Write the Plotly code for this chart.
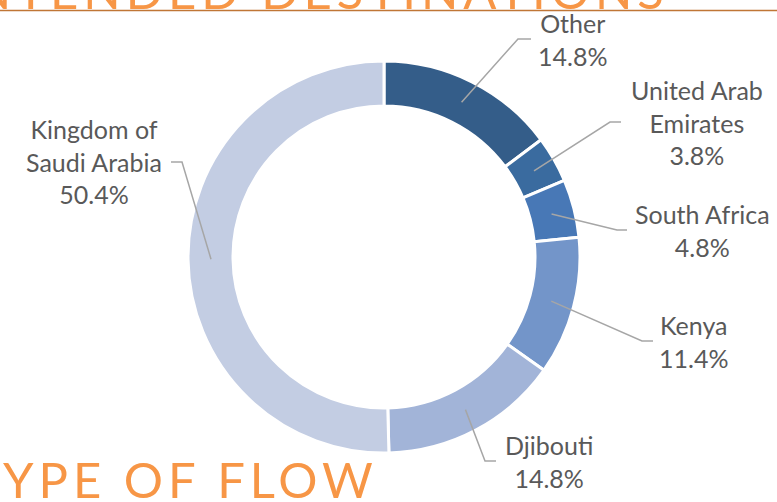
import math
import plotly.graph_objects as go

# ---- data ----
labels = ["Other", "United Arab Emirates", "South Africa", "Kenya", "Djibouti", "Kingdom of Saudi Arabia"]
label_text = ["Other", "United Arab<br>Emirates", "South Africa", "Kenya", "Djibouti", "Kingdom of<br>Saudi Arabia"]
shares = [14.8, 3.8, 4.8, 11.4, 14.8, 50.4]
colors = ["#345d89", "#3a6b9f", "#4878b6", "#7395c9", "#a2b4d8", "#c3cde3"]
top_title = "INTENDED DESTINATIONS"
bottom_title = "TYPE OF FLOW"

# ---- layout constants (pixels) ----
W, H = 777, 502
CX, CY = 384, 257
R_OUT, R_IN, R_LEAD = 196, 151, 173
# per slice: elbow point, line end, text centre
label_layout = [
    ((518, 39), (531, 39), (572, 39)),
    ((610, 122), (621, 122), (697, 122)),
    ((617, 230), (627, 230), (702, 230)),
    ((642, 341), (653, 341), (693, 341)),
    ((485, 461), (496, 461), (549, 461)),
    ((182, 162), (171, 162), (94, 162)),
]

def px(x):
    return x / W

def py(y):
    return 1 - y / H

fig = go.Figure(go.Pie(
    labels=labels,
    values=shares,
    sort=False,
    direction="clockwise",
    rotation=0,
    hole=R_IN / R_OUT,
    textinfo="none",
    marker=dict(colors=colors, line=dict(color="white", width=3)),
    domain=dict(x=[px(CX - R_OUT), px(CX + R_OUT)], y=[py(CY + R_OUT), py(CY - R_OUT)]),
    showlegend=False,
    hoverinfo="label+percent",
))

shapes = []
annotations = []
total = sum(shares)
cum = 0.0
for i, v in enumerate(shares):
    mid = (cum + v / 2) / total * 2 * math.pi
    cum += v
    sx = CX + R_LEAD * math.sin(mid)
    sy = CY - R_LEAD * math.cos(mid)
    (ex, ey), (lx, ly), (tx, ty) = label_layout[i]
    shapes.append(dict(
        type="path", xref="paper", yref="paper",
        path=f"M {px(sx)} {py(sy)} L {px(ex)} {py(ey)} L {px(lx)} {py(ly)}",
        line=dict(color="#a6a6a6", width=1.5),
    ))
    annotations.append(dict(
        x=px(tx), y=py(ty), xref="paper", yref="paper",
        xanchor="center", yanchor="middle", align="center",
        text=f"{label_text[i]}<br>{v:.1f}%", showarrow=False,
        font=dict(family="Lato", size=25, color="#595959"),
    ))

# orange rule under the cut-off heading
shapes.append(dict(type="line", xref="paper", yref="paper",
                   x0=0, x1=1, y0=py(10.5), y1=py(10.5),
                   line=dict(color="#c07636", width=1.5)))

title_style = "letter-spacing:5px"
annotations.append(dict(
    x=px(671), y=py(21), xref="paper", yref="paper",
    xanchor="right", yanchor="bottom",
    text=f'<span style="{title_style}">{top_title}</span>', showarrow=False,
    font=dict(family="Lato", size=49, color="#f79646"),
))
annotations.append(dict(
    x=px(380), y=py(510), xref="paper", yref="paper",
    xanchor="right", yanchor="bottom",
    text=f'<span style="{title_style}">{bottom_title}</span>', showarrow=False,
    font=dict(family="Lato", size=49, color="#f79646"),
))

fig.update_layout(
    width=W, height=H, autosize=False,
    margin=dict(l=0, r=0, t=0, b=0),
    paper_bgcolor="white", plot_bgcolor="white",
    shapes=shapes, annotations=annotations,
)

fig.write_html("out.html", config={"displayModeBar": False},
               post_script="document.body.style.margin='0';")
